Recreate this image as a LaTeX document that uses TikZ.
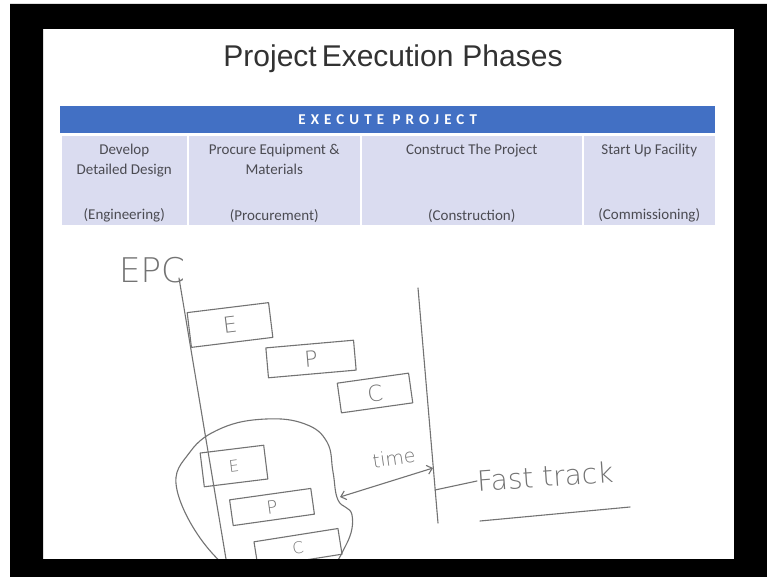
\documentclass[tikz,border=0pt]{standalone}
\usepackage{fontspec}
\setmainfont{Liberation Sans}
\newfontfamily\tablefont{Carlito}
\newfontfamily\headfont[LetterSpace=34]{Carlito}
\newfontfamily\handfont{DejaVu Sans ExtraLight}
\usetikzlibrary{arrows.meta, positioning}

\definecolor{barblue}{RGB}{66,112,196}
\definecolor{rowfill}{RGB}{218,220,240}
\definecolor{celltext}{RGB}{75,75,82}
\definecolor{inkgray}{RGB}{115,115,115}
\definecolor{titlegray}{RGB}{50,50,50}

\begin{document}
\begin{tikzpicture}[x=1pt, y=-1pt,
    cell/.style={draw=white, line width=1.5pt, fill=rowfill, minimum height=90pt, inner sep=0pt, anchor=north west},
    celltxt/.style={font=\tablefont\fontsize{15}{20}\selectfont, text=celltext, align=center, inner sep=0pt},
    ink/.style={draw=inkgray, line width=1.1pt, line cap=round, line join=round},
    hand/.style={font=\handfont\fontsize{22}{22}\selectfont, text=inkgray, inner sep=0pt},
    handbox/.style={ink, hand, rectangle}
]
        \useasboundingbox (0,0) rectangle (767,577);
        \fill[white] (0,0) rectangle (767,577);

        % title and table
        \node[font=\fontsize{30}{34}\selectfont, text=titlegray] (title) at (393,59) {Project\,Execution\hspace{9pt}Phases};
        \node[fill=barblue, minimum width=655pt, minimum height=27pt, inner sep=0pt, anchor=north west] (head) at (60,106) {};
        \node[font=\headfont\bfseries\fontsize{15}{15}\selectfont, text=white] at (head.center) {EXECUTE PROJECT};

        \node[cell, minimum width=127pt] (dev) at (60,135) {};
        \node[cell, minimum width=173pt] (proc) at (187,135) {};
        \node[cell, minimum width=222pt] (cons) at (360,135) {};
        \node[cell, minimum width=133pt] (start) at (582,135) {};

        \node[celltxt, below=9pt of dev.north] {Develop\\Detailed Design};
        \node[celltxt, below=9pt of proc.north] {Procure Equipment \&\\Materials};
        \node[celltxt, below=9pt of cons.north] {Construct The Project};
        \node[celltxt, below=9pt of start.north] {Start Up Facility};
        \node[celltxt, above=4pt of dev.south] {(Engineering)};
        \node[celltxt, above=4pt of proc.south] {(Procurement)};
        \node[celltxt, above=4pt of cons.south] {(Construction)};
        \node[celltxt, above=4pt of start.south] {(Commissioning)};

        % handwritten part
        \node[hand, font=\handfont\fontsize{34}{34}\selectfont] (epc) at (152,270) {EPC};
        \coordinate (ltop) at (179,278);
        \coordinate (lbot) at (227,565);
        \coordinate (rtop) at (418,288);
        \coordinate (rbot) at (438,523);
        \draw[ink] (ltop) -- (lbot);
        \draw[ink] (rtop) -- (rbot);

        \node[handbox, minimum width=82pt, minimum height=35pt, rotate=7] (ebox) at (230,325) {E};
        \node[handbox, minimum width=88pt, minimum height=30pt, rotate=5] (pbox) at (311,359) {P};
        \node[handbox, minimum width=72pt, minimum height=30pt, rotate=8] (cbox) at (375,393) {C};

        \draw[ink] plot[smooth cycle, tension=0.7] coordinates {(177,490) (190,452) (222,428) (266,419) (305,424) (327,442) (333,472) (338,500) (352,515) (346,545) (320,575) (260,582) (212,553)};

        \node[handbox, minimum width=64pt, minimum height=34pt, rotate=7, font=\handfont\fontsize{16}{16}\selectfont] (eft) at (234,466) {E};
        \node[handbox, minimum width=82pt, minimum height=26pt, rotate=8, font=\handfont\fontsize{18}{18}\selectfont] (pft) at (272,507) {P};
        \node[handbox, minimum width=85pt, minimum height=26pt, rotate=9, font=\handfont\fontsize{16}{16}\selectfont] (cft) at (298,548) {C};

        \coordinate (tl) at (340,497);
        \coordinate (tr) at (433,468);
        \draw[ink, {Straight Barb[length=5pt,width=9pt]}-{Straight Barb[length=5pt,width=9pt]}] (tl) -- (tr);
        \node[hand, rotate=8, font=\handfont\fontsize{19}{19}\selectfont] (time) at (394,458) {time};

        \coordinate (ax) at (435,490);
        \node[hand, font=\handfont\fontsize{28}{28}\selectfont, rotate=4, anchor=west] (fast) at (477,481) {Fast track};
        \draw[ink] (ax) -- (fast.west);
        \coordinate (ul1) at (480,521);
        \coordinate (ul2) at (630,507);
        \draw[ink] (ul1) -- (ul2);

        % screen frame
        \fill[black, even odd rule] (10,4) rectangle (767,577) (43,29) rectangle (734,559);
    \end{tikzpicture}
\end{document}
